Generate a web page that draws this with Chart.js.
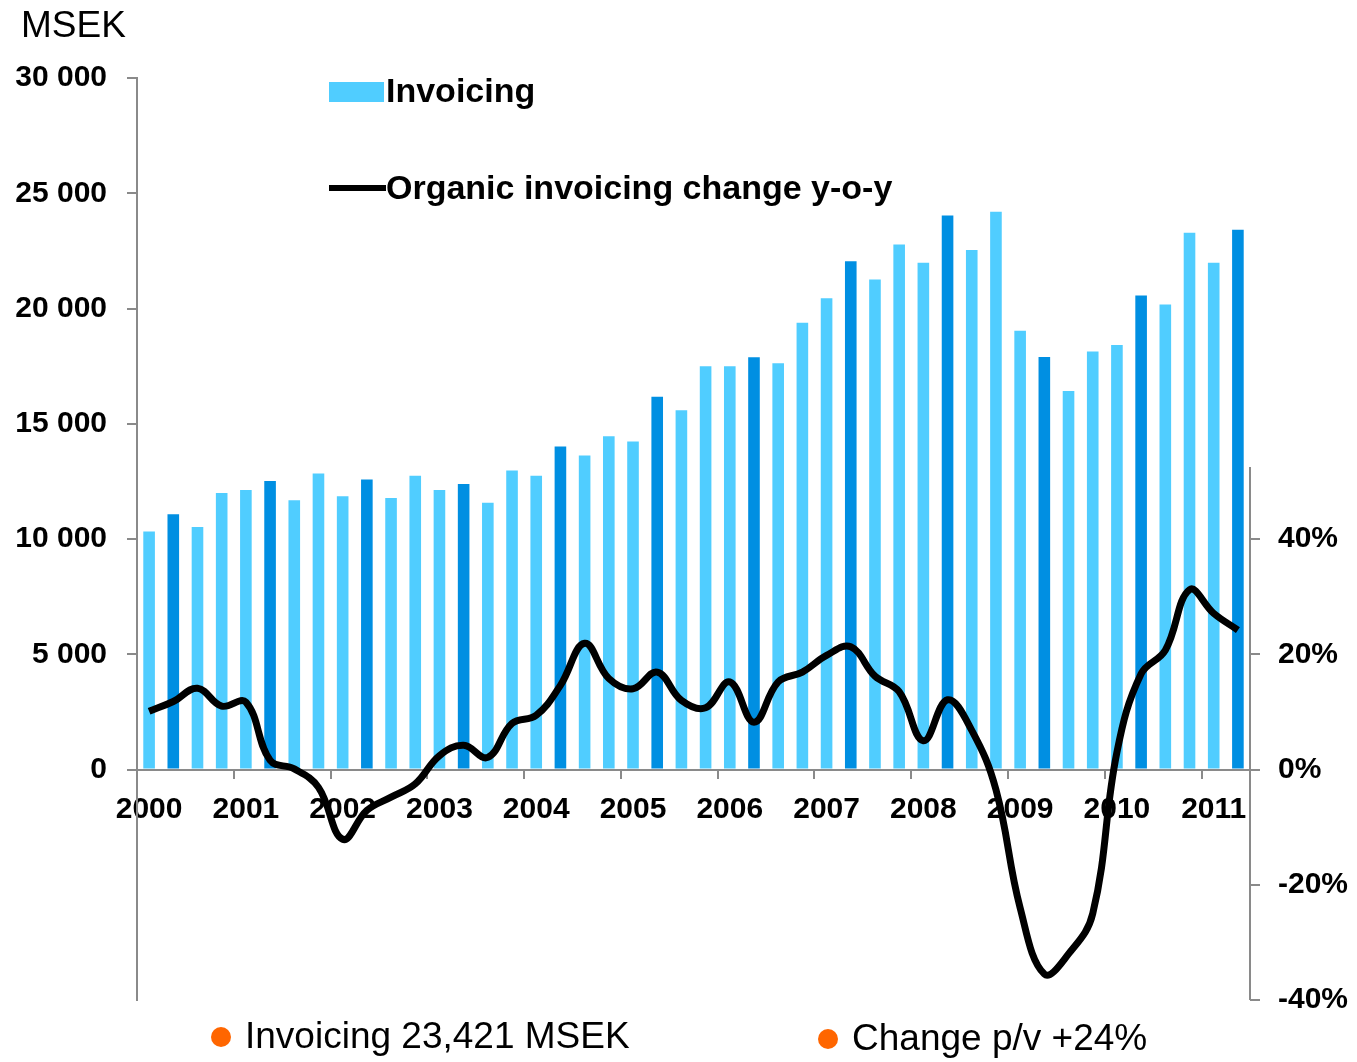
<!DOCTYPE html>
<html>
<head>
<meta charset="utf-8">
<script src="https://cdn.jsdelivr.net/npm/chart.js@4.4.1/dist/chart.umd.min.js"></script>
<style>
  html, body { margin: 0; padding: 0; background: #fff; }
  #wrap { width: 1357px; height: 1062px; position: relative; }
</style>
</head>
<body>
<div id="wrap"><canvas id="chart"></canvas></div>
<script>
const quarters = [
  '2000 Q1', '2000 Q2', '2000 Q3', '2000 Q4',
  '2001 Q1', '2001 Q2', '2001 Q3', '2001 Q4',
  '2002 Q1', '2002 Q2', '2002 Q3', '2002 Q4',
  '2003 Q1', '2003 Q2', '2003 Q3', '2003 Q4',
  '2004 Q1', '2004 Q2', '2004 Q3', '2004 Q4',
  '2005 Q1', '2005 Q2', '2005 Q3', '2005 Q4',
  '2006 Q1', '2006 Q2', '2006 Q3', '2006 Q4',
  '2007 Q1', '2007 Q2', '2007 Q3', '2007 Q4',
  '2008 Q1', '2008 Q2', '2008 Q3', '2008 Q4',
  '2009 Q1', '2009 Q2', '2009 Q3', '2009 Q4',
  '2010 Q1', '2010 Q2', '2010 Q3', '2010 Q4',
  '2011 Q1', '2011 Q2'
];

// MSEK per quarter
const invoicing = [
  10330, 11070, 10520, 12000,
  12130, 12520, 11680, 12840,
  11850, 12580, 11780, 12740,
  12130, 12390, 11570, 12970,
  12740, 14010, 13620, 14460,
  14230, 16170, 15590, 17500,
  17500, 17880, 17620, 19380,
  20440, 22050, 21260, 22780,
  21990, 24040, 22540, 24200,
  19040, 17900, 16420, 18130,
  18420, 20560, 20170, 23290,
  21990, 23421
];

// organic invoicing change y-o-y, %
const organicChange = [
  10.1, 11.8, 14.1, 11.0,
  11.7, 1.6, 0.1, -3.1,
  -12.1, -7.1, -4.8, -2.5,
  2.4, 4.2, 2.1, 8.0,
  9.4, 14.6, 21.9, 15.8,
  14.0, 16.9, 12.0, 10.7,
  15.2, 8.2, 15.2, 16.9,
  19.8, 21.3, 16.2, 13.5,
  5.0, 12.1, 6.8, -3.5,
  -24, -35.5, -32, -25,
  3, 16.6, 20.7, 31.2,
  27.1, 24.2
];

const leftTicks = [0, 5000, 10000, 15000, 20000, 25000, 30000];
const rightTicks = [-40, -20, 0, 20, 40];
const footnotes = ['Invoicing 23,421 MSEK', 'Change p/v +24%'];

const lightBlue = '#50CDFF';
const darkBlue = '#008FE2';
const axisGrey = '#8a8a8a';
const FONT = "'Liberation Sans', Arial, sans-serif";

const barColors = quarters.map(q => q.endsWith('Q2') ? darkBlue : lightBlue);

const extras = {
  id: 'extras',
  afterDraw(chart) {
    const ctx = chart.ctx;
    const area = chart.chartArea;
    const y1 = chart.scales.y1;
    ctx.save();

    // right axis line (only lower part is drawn in the original)
    ctx.strokeStyle = axisGrey;
    ctx.lineWidth = 2;
    ctx.beginPath();
    ctx.moveTo(area.right, y1.getPixelForValue(52.5));
    ctx.lineTo(area.right, y1.getPixelForValue(-40));
    ctx.stroke();

    // unit
    ctx.fillStyle = '#000';
    ctx.font = '37px ' + FONT;
    ctx.textBaseline = 'alphabetic';
    ctx.textAlign = 'left';
    ctx.fillText('MSEK', 21, 37);

    // legend
    const ds = chart.data.datasets;
    ctx.font = 'bold 34px ' + FONT;
    ctx.textBaseline = 'middle';
    ctx.fillStyle = lightBlue;
    ctx.fillRect(329, 82, 55, 20);
    ctx.fillStyle = '#000';
    ctx.fillText(ds[0].label, 386, 93);
    ctx.strokeStyle = '#000';
    ctx.lineWidth = 6;
    ctx.beginPath();
    ctx.moveTo(329, 188);
    ctx.lineTo(386, 188);
    ctx.stroke();
    ctx.fillText(ds[1].label, 386, 190);

    // footnotes
    ctx.font = '37px ' + FONT;
    ctx.fillStyle = '#FF6600';
    ctx.beginPath(); ctx.arc(221, 1037, 10, 0, Math.PI * 2); ctx.fill();
    ctx.beginPath(); ctx.arc(828, 1039, 10, 0, Math.PI * 2); ctx.fill();
    ctx.fillStyle = '#000';
    ctx.fillText(footnotes[0], 245, 1038);
    ctx.fillText(footnotes[1], 852, 1040);
    ctx.restore();
  }
};

new Chart(document.getElementById('chart'), {
  type: 'bar',
  data: {
    labels: quarters,
    datasets: [
      {
        type: 'bar',
        label: 'Invoicing',
        data: invoicing,
        yAxisID: 'y',
        backgroundColor: barColors,
        borderWidth: 0,
        barPercentage: 0.48,
        categoryPercentage: 1,
        order: 2
      },
      {
        type: 'line',
        label: 'Organic invoicing change y-o-y',
        data: organicChange,
        yAxisID: 'y1',
        borderColor: '#000',
        borderWidth: 7,
        pointRadius: 0,
        tension: 0.4,
        fill: false,
        order: 1
      }
    ]
  },
  options: {
    responsive: true,
    maintainAspectRatio: false,
    animation: false,
    layout: { padding: { top: 78, bottom: 62, left: 0, right: 0 } },
    plugins: {
      legend: { display: false },
      tooltip: { enabled: false }
    },
    scales: {
      x: {
        position: { y: 0 },
        offset: true,
        grid: {
          offset: true,
          drawOnChartArea: false,
          drawTicks: true,
          tickLength: 8,
          lineWidth: 2,
          color: c => (c.index > 0 && c.index < quarters.length && c.index % 4 === 0) ? axisGrey : 'rgba(0,0,0,0)'
        },
        border: { display: true, color: axisGrey, width: 2 },
        ticks: {
          autoSkip: false,
          maxRotation: 0,
          padding: 14,
          color: '#000',
          font: { family: FONT, size: 30, weight: 'bold' },
          callback: function (v, i) {
            const q = quarters[i];
            return q.endsWith('Q1') ? q.slice(0, 4) : '';
          }
        }
      },
      y: {
        position: 'left',
        min: -10000,
        max: 30000,
        afterFit: s => { s.width = 137; },
        afterBuildTicks: s => { s.ticks = [-10000, -5000].concat(leftTicks).map(v => ({ value: v })); },
        grid: {
          drawOnChartArea: false,
          tickLength: 10,
          lineWidth: 2,
          color: axisGrey
        },
        border: { display: true, color: axisGrey, width: 2 },
        ticks: {
          padding: 20,
          color: '#000',
          font: { family: FONT, size: 30, weight: 'bold' },
          callback: v => leftTicks.includes(v) ? String(v).replace(/\B(?=(\d{3})+(?!\d))/g, ' ') : null
        }
      },
      y1: {
        position: 'right',
        min: -40,
        max: 120,
        afterFit: s => { s.width = 107; },
        afterBuildTicks: s => { s.ticks = [-40, -20, 0, 20, 40, 60, 80, 100, 120].map(v => ({ value: v })); },
        grid: {
          drawOnChartArea: false,
          tickLength: 10,
          lineWidth: 2,
          color: axisGrey
        },
        border: { display: false },
        ticks: {
          padding: 18,
          color: '#000',
          font: { family: FONT, size: 30, weight: 'bold' },
          callback: v => rightTicks.includes(v) ? v + '%' : null
        }
      }
    }
  },
  plugins: [extras]
});
</script>
</body>
</html>
